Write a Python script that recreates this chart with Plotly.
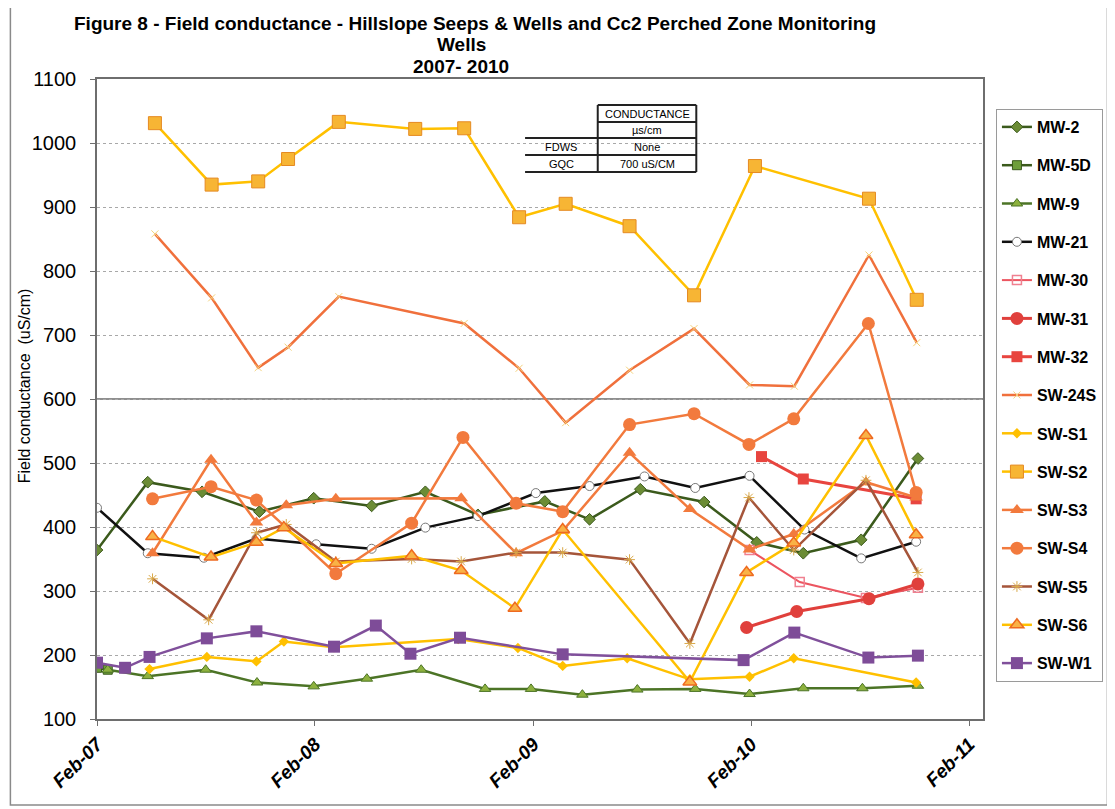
import plotly.graph_objects as go

# ---------------- data ----------------
mw2_dates = ["2007-02-01","2007-04-27","2007-07-27","2007-10-31","2008-01-30","2008-05-06","2008-08-04","2008-10-31",
             "2009-02-20","2009-05-06","2009-07-30","2009-11-14","2010-02-10","2010-04-29","2010-08-04","2010-11-07"]
mw2 = [364,470,455,424,445,433,455,419,440,412,459,439,376,359,380,507]

mw5d_dates = ["2007-02-01","2007-02-19"]
mw5d = [180,177]

mw9_dates = ["2007-02-19","2007-04-27","2007-08-02","2007-10-27","2008-01-30","2008-04-28","2008-07-28","2008-11-12",
             "2009-01-28","2009-04-24","2009-07-25","2009-10-30","2010-01-29","2010-04-29","2010-08-06","2010-11-07"]
mw9 = [177,167,177,157,151,163,177,147,147,138,146,147,139,148,148,152]

mw21_dates = ["2007-02-01","2007-04-27","2007-07-30","2007-10-26","2008-02-03","2008-05-06","2008-08-04","2008-10-31",
              "2009-02-05","2009-05-06","2009-08-06","2009-10-30","2010-01-29","2010-05-01","2010-08-04","2010-11-04"]
mw21 = [430,359,352,382,373,366,399,417,453,464,479,461,480,396,351,377]

mw30_dates = ["2010-01-29","2010-04-23","2010-08-12","2010-11-07"]
mw30 = [364,314,289,305]

mw31_dates = ["2010-01-24","2010-04-18","2010-08-17","2010-11-07"]
mw31 = [243,268,288,311]

mw32_dates = ["2010-02-18","2010-04-29","2010-11-04"]
mw32 = [510,475,444]

sw24s_dates = ["2007-05-09","2007-08-12","2007-10-29","2007-12-18","2008-03-12","2008-10-08","2009-01-08",
               "2009-03-27","2009-07-12","2009-10-28","2010-01-29","2010-04-14","2010-08-17","2010-11-05"]
sw24s = [858,758,649,681,760,718,648,563,645,710,622,620,825,688]

sws1_dates = ["2007-04-30","2007-08-04","2007-10-26","2007-12-11","2008-03-04","2008-09-28","2009-01-06",
              "2009-03-22","2009-07-08","2009-10-21","2010-01-29","2010-04-13","2010-11-04"]
sws1 = [178,197,190,221,212,225,211,183,195,162,166,195,157]

sws2_dates = ["2007-05-09","2007-08-12","2007-10-29","2007-12-18","2008-03-12","2008-07-18","2008-10-08",
              "2009-01-08","2009-03-27","2009-07-12","2009-10-28","2010-02-07","2010-08-17","2010-11-05"]
sws2 = [1031,935,940,975,1033,1022,1023,884,905,870,762,964,913,755]

sws3_dates = ["2007-05-05","2007-08-11","2007-10-26","2007-12-15","2008-03-07","2008-10-03","2009-01-03",
              "2009-03-22","2009-07-12","2009-10-21","2010-01-29","2010-04-13","2010-08-12","2010-11-04"]
sws3 = [359,505,407,434,444,445,359,394,516,428,365,389,470,446]

sws4_dates = ["2007-05-05","2007-08-11","2007-10-26","2008-03-07","2008-07-12","2008-10-06","2009-01-03",
              "2009-03-22","2009-07-12","2009-10-28","2010-01-28","2010-04-13","2010-08-16","2010-11-04"]
sws4 = [444,463,442,327,406,540,437,424,560,577,529,569,718,454]

sws5_dates = ["2007-05-05","2007-08-07","2007-10-26","2007-12-15","2008-03-07","2008-07-12","2008-10-03","2009-01-03",
              "2009-03-22","2009-07-12","2009-10-21","2010-01-28","2010-04-13","2010-08-12","2010-11-07"]
sws5 = [319,255,391,404,346,350,346,360,360,349,218,446,364,473,329]

sws6_dates = ["2007-05-05","2007-08-11","2007-10-26","2007-12-11","2008-03-07","2008-07-12","2008-10-03",
              "2009-01-01","2009-03-22","2009-10-21","2010-01-24","2010-04-13","2010-08-12","2010-11-04"]
sws6 = [385,353,376,399,343,355,332,273,396,158,329,375,543,388]

sww1_dates = ["2007-02-01","2007-03-20","2007-04-30","2007-08-04","2007-10-26","2008-03-04","2008-05-13",
              "2008-07-10","2008-10-01","2009-03-22","2010-01-19","2010-04-14","2010-08-16","2010-11-07"]
sww1 = [188,180,197,226,237,213,246,202,227,201,192,235,196,199]

x_tick_dates = ["2007-02-01","2008-02-01","2009-02-01","2010-02-01","2011-02-01"]
x_tick_labels = ["Feb-07","Feb-08","Feb-09","Feb-10","Feb-11"]
reference_level = 600

table_rows = [["", "CONDUCTANCE"], ["", "\u00b5s/cm"], ["FDWS", "None"], ["GQC", "700 uS/CM"]]

title_lines = ["Figure 8 - Field conductance - Hillslope Seeps & Wells and Cc2 Perched Zone Monitoring",
               "Wells", "2007- 2010"]

# ---------------- styling ----------------
series = [
    ("MW-2", mw2_dates, mw2, dict(color="#3B5A1C", width=2.5), dict(symbol="diamond", size=9, color="#6B8C35", line=dict(color="#3B5A1C", width=1))),
    ("MW-5D", mw5d_dates, mw5d, dict(color="#3B5A1C", width=2.5), dict(symbol="square", size=9, color="#6E9E3A", line=dict(color="#3B5A1C", width=1))),
    ("MW-9", mw9_dates, mw9, dict(color="#4C7426", width=2.5), dict(symbol="triangle-up", size=10, color="#8DB13E", line=dict(color="#4C7426", width=1))),
    ("MW-21", mw21_dates, mw21, dict(color="#111111", width=2.5), dict(symbol="circle", size=9, color="white", line=dict(color="#777777", width=1))),
    ("MW-30", mw30_dates, mw30, dict(color="#EC5560", width=2), dict(symbol="square-open", size=9, color="#F08090", line=dict(width=1.5))),
    ("MW-31", mw31_dates, mw31, dict(color="#E0403C", width=3), dict(symbol="circle", size=13, color="#E0403C")),
    ("MW-32", mw32_dates, mw32, dict(color="#E8453F", width=3), dict(symbol="square", size=11, color="#E8453F")),
    ("SW-24S", sw24s_dates, sw24s, dict(color="#F0703C", width=2.5), dict(symbol="x-thin-open", size=7, color="#F3D27A", line=dict(color="#F3D27A", width=1))),
    ("SW-S1", sws1_dates, sws1, dict(color="#FFC000", width=2.5), dict(symbol="diamond", size=8, color="#FFC000")),
    ("SW-S2", sws2_dates, sws2, dict(color="#FFC000", width=2.5), dict(symbol="square", size=13, color="#F7B534", line=dict(color="#E58A22", width=1))),
    ("SW-S3", sws3_dates, sws3, dict(color="#F27A3D", width=2.5), dict(symbol="triangle-up", size=12, color="#F27A3D")),
    ("SW-S4", sws4_dates, sws4, dict(color="#F27A3D", width=2.5), dict(symbol="circle", size=13, color="#F27A3D")),
    ("SW-S5", sws5_dates, sws5, dict(color="#A5553A", width=2.5), dict(symbol="asterisk-open", size=9, color="#D9A94A", line=dict(color="#D9A94A", width=1))),
    ("SW-S6", sws6_dates, sws6, dict(color="#FFC000", width=2.5), dict(symbol="triangle-up", size=12, color="#F9B246", line=dict(color="#EE6A20", width=1.5))),
    ("SW-W1", sww1_dates, sww1, dict(color="#80509B", width=2.5), dict(symbol="square", size=12, color="#7E4C98")),
]

fig = go.Figure()
for name, xd, yd, ln, mk in series:
    fig.add_trace(go.Scatter(x=xd, y=yd, name=name, mode="lines+markers", line=ln, marker=mk,
                             legendgroup=name))

# screen geometry (page has an 8px body margin, so the figure is drawn 8px smaller and shifted)
OFF = 8
SW, SH = 1115, 809
W, H = SW - OFF, SH - OFF
L, R, T, B = 97, 987, 79, 719   # plot area in screen px


def px(xs):
    return (xs - L) / (R - L)


def py(ys):
    return (B - ys) / (B - T)


fig.update_layout(
    width=W, height=H,
    margin=dict(l=L - OFF, r=SW - R, t=T - OFF, b=SH - B),
    paper_bgcolor="white", plot_bgcolor="white",
    font=dict(family="Liberation Sans, Arial, sans-serif", color="black"),
    showlegend=True,
    legend=dict(x=px(1000), y=py(109), xanchor="left", yanchor="top",
                bordercolor="#9A9A9A", borderwidth=1, bgcolor="white",
                font=dict(size=16, color="black", weight="bold"), tracegroupgap=14.5, itemwidth=30),
)

fig.update_xaxes(type="date", range=["2007-02-01", "2011-02-24"],
                 tickvals=x_tick_dates, ticktext=x_tick_labels, tickangle=-45,
                 tickfont=dict(size=19, weight="bold", style="italic"),
                 showgrid=False, showline=True, linecolor="#6E6E6E", linewidth=1.5, mirror=True,
                 ticks="outside", ticklen=5, tickcolor="#6E6E6E", zeroline=False)
fig.update_yaxes(range=[100, 1100], dtick=100, tick0=100,
                 tickfont=dict(size=20), ticklabelstandoff=10,
                 showgrid=True, gridcolor="#A8A8A8", griddash="dot", gridwidth=1,
                 showline=True, linecolor="#6E6E6E", linewidth=1.5, mirror=True,
                 ticks="outside", ticklen=5, tickcolor="#6E6E6E", zeroline=False)

shapes = []
annotations = []
# reference solid line
shapes.append(dict(type="line", xref="paper", yref="y", x0=0, x1=1, y0=reference_level, y1=reference_level,
                   line=dict(color="#6A6A6A", width=1.5), layer="below"))
# outer chart border
shapes.append(dict(type="rect", xref="paper", yref="paper", x0=px(10), x1=px(1112), y0=py(805), y1=py(5),
                   line=dict(color="#8A8A8A", width=1.5)))

# title (three lines)
for txt, xc, yc in zip(title_lines, [477, 463, 463], [23, 45, 67]):
    annotations.append(dict(text="<b>" + txt + "</b>", xref="paper", yref="paper", x=px(xc), y=py(yc),
                            xanchor="center", yanchor="middle", showarrow=False,
                            font=dict(size=19, color="black")))
# y axis title
annotations.append(dict(text="Field conductance  (uS/cm)", xref="paper", yref="paper", x=px(24), y=py(386),
                        textangle=-90, showarrow=False, xanchor="center", yanchor="middle",
                        font=dict(size=16, color="black")))

# inset table
tx0, tx1, tx2 = 527, 600, 699
row_y = [105, 122, 138, 155, 172]
blk = dict(color="#222222", width=2)
shapes.append(dict(type="rect", xref="paper", yref="paper", x0=px(tx0), x1=px(tx2), y0=py(row_y[4]), y1=py(row_y[0]),
                   line=dict(width=0), fillcolor="white", layer="below"))
shapes.append(dict(type="line", xref="paper", yref="paper", x0=px(tx1), x1=px(tx1), y0=py(row_y[0]), y1=py(row_y[4]), line=blk))
shapes.append(dict(type="line", xref="paper", yref="paper", x0=px(tx2), x1=px(tx2), y0=py(row_y[0]), y1=py(row_y[4]), line=blk))
shapes.append(dict(type="line", xref="paper", yref="paper", x0=px(tx1), x1=px(tx2), y0=py(row_y[0]), y1=py(row_y[0]), line=blk))
shapes.append(dict(type="line", xref="paper", yref="paper", x0=px(tx1), x1=px(tx2), y0=py(row_y[1]), y1=py(row_y[1]), line=blk))
for ry in row_y[2:]:
    shapes.append(dict(type="line", xref="paper", yref="paper", x0=px(tx0), x1=px(tx2), y0=py(ry), y1=py(ry), line=blk))
for i, (c1, c2) in enumerate(table_rows):
    yc = (row_y[i] + row_y[i + 1]) / 2
    if c1:
        annotations.append(dict(text=c1, xref="paper", yref="paper", x=px((tx0 + tx1) / 2), y=py(yc),
                                showarrow=False, xanchor="center", yanchor="middle", font=dict(size=11)))
    annotations.append(dict(text=c2, xref="paper", yref="paper", x=px((tx1 + tx2) / 2), y=py(yc),
                            showarrow=False, xanchor="center", yanchor="middle", font=dict(size=11)))

fig.update_layout(shapes=shapes, annotations=annotations)
fig.write_html("out.html")
